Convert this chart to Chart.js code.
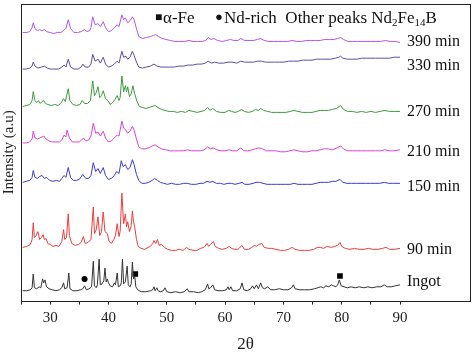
<!DOCTYPE html>
<html><head><meta charset="utf-8">
<script src="https://cdn.jsdelivr.net/npm/chart.js@4"></script>
<style>html,body{margin:0;padding:0;background:#fff}#wrap{width:474px;height:363px}</style>
</head><body><div id="wrap"><canvas id="c" width="474" height="363"></canvas></div>
<script>
// ---- data: [2θ, intensity (a.u., stacked offset included)] ----
const seriesNames = ["390 min","330 min","270 min","210 min","150 min","90 min","Ingot"];
const seriesColors = ["#b455f0","#5b4fa6","#3a9c3a","#e040e0","#3a3ae0","#f03c3c","#333333"];
const seriesLabelY = [263, 238, 192, 151, 115, 52, 19];

const min390 = [[25.3,272],[25.9,272],[26.5,273],[26.9,277],[27.1,282],[27.4,276],[27.8,274],[28.2,275],[28.6,274],[29.0,275],[29.4,273],[30.0,272],[30.6,271],[31.2,272],[31.8,272],[32.1,273],[32.4,275],[32.7,276],[33.1,285],[33.5,276],[34.1,272],[34.7,272],[35.3,273],[35.9,275],[36.3,273],[36.8,274],[37.0,277],[37.3,288],[37.7,280],[38.2,281],[38.6,278],[39.1,283],[39.5,277],[40.0,273],[40.5,274],[41.0,277],[41.5,280],[41.8,278],[42.3,290],[42.6,285],[42.9,287],[43.3,282],[43.7,284],[44.1,288],[44.4,285],[44.8,276],[45.2,268],[45.8,266],[46.5,267],[47.2,268],[47.7,269],[48.1,270],[48.6,268],[49.2,266],[49.9,265],[50.6,264],[51.4,263],[52.2,263],[53.0,263],[53.8,264],[54.5,263],[55.3,263],[56.1,263],[56.7,264],[57.1,267],[57.6,265],[58.1,266],[58.7,264],[59.5,263],[60.3,264],[60.9,265],[61.5,264],[62.2,264],[62.7,266],[63.3,264],[64.1,264],[64.9,264],[65.5,265],[66.1,266],[66.7,264],[67.5,263],[68.3,263],[69.1,263],[69.9,263],[70.7,263],[71.5,264],[72.3,263],[73.1,263],[73.9,264],[74.7,264],[75.5,264],[76.3,264],[77.1,265],[77.9,265],[78.7,265],[79.3,266],[79.8,267],[80.3,265],[81.1,263],[81.9,263],[82.7,263],[83.5,263],[84.3,263],[85.1,263],[85.9,263],[86.7,263],[87.5,264],[88.3,263],[89.1,263],[90.0,262]];

const min330 = [[25.3,235],[25.9,235],[26.5,236],[26.9,238],[27.1,242],[27.4,238],[27.9,236],[28.5,237],[29.0,238],[29.5,236],[30.1,235],[30.8,235],[31.5,235],[32.0,237],[32.4,239],[32.7,237],[33.1,245],[33.5,237],[34.1,235],[34.8,235],[35.3,237],[35.6,240],[36.0,237],[36.6,237],[37.0,240],[37.3,250],[37.7,243],[38.2,245],[38.6,241],[39.1,247],[39.5,240],[40.0,237],[40.5,238],[41.0,240],[41.5,243],[41.8,241],[42.3,253],[42.6,247],[43.0,248],[43.3,245],[43.7,247],[44.1,253],[44.4,249],[44.8,242],[45.2,237],[45.8,236],[46.5,237],[47.2,238],[47.8,240],[48.3,238],[49.0,237],[49.7,237],[50.5,237],[51.3,237],[52.1,238],[52.9,238],[53.6,239],[54.4,239],[55.2,240],[56.0,240],[56.6,241],[57.1,243],[57.6,241],[58.2,242],[58.9,241],[59.7,241],[60.5,242],[61.2,242],[62.0,241],[62.7,243],[63.3,242],[64.1,242],[64.9,242],[65.6,243],[66.2,243],[66.9,242],[67.7,242],[68.5,242],[69.3,242],[70.1,242],[70.9,243],[71.7,243],[72.5,243],[73.3,244],[74.1,244],[74.9,244],[75.7,245],[76.5,245],[77.3,245],[78.1,245],[78.9,246],[79.5,247],[79.8,248],[80.2,246],[81.0,245],[81.8,245],[82.6,245],[83.4,246],[84.2,246],[85.0,246],[85.8,246],[86.6,246],[87.4,246],[88.2,246],[89.0,247],[90.0,247]];

const min270 = [[25.3,197],[25.9,198],[26.5,199],[26.9,203],[27.1,212],[27.4,203],[27.7,201],[28.0,203],[28.3,200],[28.6,202],[28.9,203],[29.2,200],[29.6,199],[30.2,198],[30.8,199],[31.4,198],[31.9,201],[32.3,205],[32.6,202],[33.1,215],[33.4,203],[33.9,199],[34.5,198],[35.1,199],[35.5,203],[35.9,200],[36.4,200],[36.9,203],[37.3,223],[37.6,208],[37.9,211],[38.2,217],[38.5,206],[38.8,208],[39.1,213],[39.5,205],[39.9,203],[40.3,199],[40.7,201],[41.1,204],[41.5,208],[41.8,203],[42.0,206],[42.3,228],[42.6,212],[42.9,218],[43.1,212],[43.3,217],[43.6,207],[43.9,210],[44.2,218],[44.5,210],[44.9,202],[45.3,197],[45.8,196],[46.4,195],[47.0,196],[47.5,197],[48.0,198],[48.5,196],[49.1,194],[49.7,193],[50.4,192],[51.1,192],[51.8,191],[52.5,192],[53.2,191],[53.8,193],[54.5,192],[55.2,191],[55.9,192],[56.5,193],[57.0,196],[57.4,193],[57.9,195],[58.5,192],[59.2,191],[60.0,191],[60.6,193],[61.1,192],[61.7,191],[62.3,192],[62.8,194],[63.3,192],[64.0,191],[64.7,192],[65.2,194],[65.7,193],[66.1,195],[66.6,193],[67.3,192],[68.0,191],[68.8,191],[69.6,191],[70.4,191],[71.2,192],[71.8,193],[72.5,192],[73.3,191],[74.1,191],[74.9,191],[75.6,192],[76.3,193],[77.0,193],[77.7,193],[78.4,194],[79.1,195],[79.8,198],[80.3,194],[81.0,192],[81.8,192],[82.6,191],[83.4,192],[84.2,191],[85.0,192],[85.8,191],[86.6,192],[87.4,193],[88.2,192],[89.0,192],[90.0,192]];

const min210 = [[25.3,160],[25.9,160],[26.5,161],[26.9,164],[27.1,172],[27.4,165],[27.8,164],[28.2,165],[28.6,166],[28.9,167],[29.3,164],[29.8,162],[30.4,161],[31.0,161],[31.6,161],[32.0,163],[32.4,168],[32.7,166],[32.9,173],[33.3,165],[33.8,161],[34.4,161],[35.0,161],[35.4,163],[35.7,165],[36.1,162],[36.6,163],[37.0,167],[37.4,180],[37.8,170],[38.2,171],[38.6,167],[39.1,172],[39.5,165],[40.0,161],[40.5,162],[41.0,165],[41.5,168],[41.8,167],[42.3,182],[42.6,175],[43.0,173],[43.3,170],[43.7,172],[44.1,177],[44.4,173],[44.8,164],[45.2,156],[45.7,154],[46.3,154],[46.9,155],[47.5,157],[48.0,158],[48.5,156],[49.1,154],[49.8,153],[50.5,152],[51.3,152],[52.0,152],[52.8,152],[53.6,153],[54.3,152],[55.0,152],[55.8,152],[56.4,153],[57.0,156],[57.5,154],[58.0,155],[58.6,153],[59.3,152],[60.0,152],[60.7,153],[61.3,152],[62.0,152],[62.7,155],[63.2,152],[63.9,152],[64.6,153],[65.2,154],[65.8,155],[66.4,154],[67.1,152],[67.9,152],[68.7,152],[69.5,151],[70.3,151],[71.1,152],[71.8,153],[72.5,152],[73.3,151],[74.1,151],[74.9,152],[75.6,152],[76.3,153],[77.0,154],[77.7,154],[78.4,153],[79.2,155],[79.8,157],[80.3,154],[81.0,152],[81.8,152],[82.6,152],[83.4,152],[84.2,152],[85.0,152],[85.8,152],[86.6,152],[87.4,153],[88.2,152],[89.0,152],[90.0,153]];

const min150 = [[25.3,120],[25.9,121],[26.5,122],[26.9,125],[27.1,132],[27.4,125],[27.8,124],[28.2,126],[28.6,127],[29.0,124],[29.4,125],[29.9,122],[30.5,121],[31.1,122],[31.6,121],[32.0,124],[32.4,127],[32.7,125],[33.1,135],[33.5,125],[34.0,122],[34.5,122],[35.0,123],[35.6,128],[36.1,124],[36.6,124],[37.0,127],[37.4,140],[37.8,131],[38.2,134],[38.6,129],[39.1,135],[39.5,127],[40.0,123],[40.5,124],[41.0,127],[41.4,131],[41.8,129],[42.2,142],[42.5,136],[42.9,138],[43.3,133],[43.7,135],[44.1,143],[44.4,138],[44.8,128],[45.2,122],[45.7,119],[46.3,119],[46.9,120],[47.5,122],[47.9,124],[48.4,122],[48.9,120],[49.5,119],[50.1,118],[50.8,119],[51.5,118],[52.2,118],[52.9,119],[53.5,119],[54.2,118],[55.0,118],[55.7,119],[56.3,119],[56.9,121],[57.4,120],[57.9,121],[58.5,119],[59.2,119],[59.8,118],[60.5,119],[61.1,119],[61.7,118],[62.4,119],[62.9,120],[63.4,118],[64.1,118],[64.8,119],[65.3,120],[65.9,120],[66.5,119],[67.2,118],[68.0,118],[68.8,118],[69.6,118],[70.4,118],[71.2,118],[71.8,119],[72.5,118],[73.3,118],[74.1,118],[74.9,118],[75.6,119],[76.3,120],[77.0,120],[77.7,120],[78.4,121],[79.0,121],[79.7,123],[80.2,120],[80.9,119],[81.7,119],[82.5,119],[83.3,119],[84.1,119],[84.9,119],[85.7,119],[86.5,119],[87.3,120],[88.1,119],[88.9,119],[90.0,119]];

const min90 = [[25.3,54],[26.0,55],[26.6,57],[26.9,62],[27.1,79],[27.3,64],[27.6,66],[27.9,70],[28.2,62],[28.5,64],[28.8,67],[29.0,62],[29.3,63],[29.6,58],[30.0,57],[30.5,55],[31.0,56],[31.5,55],[32.0,60],[32.3,72],[32.5,62],[32.8,64],[33.1,88],[33.3,66],[33.7,58],[34.3,56],[34.9,57],[35.3,59],[35.7,65],[36.0,58],[36.5,59],[37.0,62],[37.4,95],[37.6,68],[37.9,72],[38.2,85],[38.5,66],[38.8,70],[39.1,90],[39.4,70],[39.8,68],[40.1,60],[40.5,58],[40.9,62],[41.2,66],[41.5,78],[41.8,65],[42.0,70],[42.3,109],[42.6,78],[42.9,88],[43.1,75],[43.3,80],[43.6,70],[43.9,76],[44.1,91],[44.3,80],[44.5,75],[44.8,62],[45.1,55],[45.6,53],[46.2,52],[46.8,54],[47.2,55],[47.6,58],[47.8,61],[48.1,58],[48.4,62],[48.7,56],[49.1,57],[49.6,54],[50.2,52],[50.8,51],[51.5,51],[52.2,52],[52.8,51],[53.4,54],[53.8,52],[54.5,51],[55.2,51],[55.8,53],[56.4,54],[56.9,58],[57.2,55],[57.5,57],[58.0,60],[58.3,55],[58.9,53],[59.5,52],[60.2,53],[60.7,55],[61.1,53],[61.6,52],[62.2,52],[62.9,56],[63.3,52],[64.0,52],[64.6,54],[65.0,56],[65.4,55],[65.8,57],[66.3,58],[66.7,54],[67.4,53],[68.0,53],[68.7,52],[69.5,51],[70.2,51],[70.9,52],[71.5,54],[72.0,52],[72.8,51],[73.6,51],[74.4,51],[75.2,52],[75.8,54],[76.3,54],[76.9,53],[77.5,55],[78.2,54],[78.8,55],[79.3,56],[79.7,59],[80.0,55],[80.6,53],[81.4,52],[82.2,53],[83.0,52],[83.8,52],[84.6,53],[85.4,52],[86.2,52],[87.0,53],[87.6,54],[88.2,52],[89.0,52],[90.0,53]];

const ingot = [[25.3,10],[26.0,10],[26.6,11],[26.9,13],[27.1,27],[27.3,13],[27.7,12],[28.1,14],[28.4,13],[28.7,22],[28.9,18],[29.1,21],[29.4,14],[29.8,12],[30.4,11],[31.0,10],[31.6,11],[32.0,13],[32.3,18],[32.5,12],[32.9,13],[33.2,28],[33.4,12],[33.9,10],[34.6,10],[35.2,11],[35.6,12],[35.9,15],[36.2,11],[36.7,12],[37.1,14],[37.4,40],[37.6,15],[37.9,13],[38.1,16],[38.4,42],[38.6,16],[38.9,17],[39.2,20],[39.4,33],[39.6,19],[39.8,22],[40.0,18],[40.3,15],[40.7,14],[41.0,18],[41.2,16],[41.5,28],[41.7,14],[42.0,15],[42.2,18],[42.4,42],[42.6,17],[42.9,19],[43.2,35],[43.4,16],[43.7,14],[43.9,17],[44.1,39],[44.3,22],[44.5,25],[44.7,14],[45.0,11],[45.6,9],[46.4,9],[47.2,10],[47.6,11],[47.8,14],[48.0,10],[48.3,13],[48.5,10],[48.9,9],[49.4,10],[49.7,13],[50.0,9],[50.7,8],[51.5,9],[52.3,8],[53.0,9],[53.5,12],[53.8,9],[54.6,9],[55.4,8],[56.0,9],[56.6,11],[57.0,17],[57.2,12],[57.5,13],[57.9,16],[58.2,11],[58.8,10],[59.6,10],[60.2,11],[60.5,14],[60.7,11],[61.0,14],[61.3,10],[62.0,10],[62.6,12],[62.9,18],[63.2,11],[63.8,10],[64.4,12],[64.7,15],[65.0,12],[65.4,16],[65.7,12],[66.1,18],[66.4,13],[66.8,12],[67.3,14],[67.8,11],[68.5,11],[69.3,12],[70.0,11],[70.8,11],[71.4,13],[71.7,16],[72.0,12],[72.8,11],[73.6,11],[74.5,11],[75.3,12],[75.9,13],[76.4,14],[76.9,13],[77.3,15],[77.8,14],[78.2,16],[78.6,15],[79.0,14],[79.3,16],[79.6,21],[79.9,15],[80.4,14],[81.0,13],[81.6,14],[82.3,13],[83.0,14],[83.8,13],[84.5,14],[85.2,13],[86.0,14],[86.7,14],[87.3,16],[87.8,14],[88.5,14],[89.2,15],[90.0,16]];

const alphaFeMarks = [[44.6,27],[79.7,25]];
const ndRichMarks = [[35.9,22]];
const xTickLabels = [30,40,50,60,70,80,90];

const allSeries = [min390,min330,min270,min210,min150,min90,ingot];

const toPts = a => a.map(p => ({x:p[0], y:p[1]}));
const FONT = "'Liberation Serif','Times New Roman',serif";

const datasets = allSeries.map((s,i)=>({
  type:'line', label: seriesNames[i], data: toPts(s),
  borderColor: seriesColors[i], borderWidth: 1, pointRadius: 0, tension: 0, fill:false
}));
datasets.push({type:'scatter', label:'α-Fe', data: toPts(alphaFeMarks), pointStyle:'rect', pointRadius:4, backgroundColor:'#000', borderColor:'#000', borderWidth:0});
datasets.push({type:'scatter', label:'Nd-rich', data: toPts(ndRichMarks), pointStyle:'circle', pointRadius:3, backgroundColor:'#000', borderColor:'#000', borderWidth:0});

const framePlugin = {
  id:'frame',
  afterDraw(chart){
    const {ctx, chartArea:a, scales} = chart;
    ctx.save();
    ctx.strokeStyle = '#222'; ctx.lineWidth = 1;
    ctx.strokeRect(Math.round(a.left)+0.5, Math.round(a.top)+0.5, Math.round(a.right-a.left), Math.round(a.bottom-a.top));
    // series labels
    ctx.fillStyle = '#111';
    ctx.font = "16px " + FONT;
    ctx.textBaseline = 'middle'; ctx.textAlign = 'left';
    seriesNames.forEach((n,i)=>{
      ctx.fillText(n, scales.x.getPixelForValue(91.2), scales.y.getPixelForValue(seriesLabelY[i]));
    });
    // legend text
    const yb = a.top + 19;   // text baseline
    const ym = a.top + 14;   // glyph middle
    ctx.textBaseline = 'middle';
    ctx.font = "12px " + FONT; ctx.fillText('■', 155, ym);
    ctx.font = "13px " + FONT; ctx.fillText('●', 215, ym);
    ctx.textBaseline = 'alphabetic';
    ctx.font = "17px " + FONT; ctx.fillText('α-Fe', 163, yb);
    let x = 224;
    const main = 'Nd-rich  Other peaks Nd';
    ctx.fillText(main, x, yb);
    x += ctx.measureText(main).width;
    const parts = [['2',1],['Fe',0],['14',1],['B',0]];
    parts.forEach(([t,sub])=>{
      ctx.font = (sub? "11px ":"17px ") + FONT;
      ctx.fillText(t, x, yb+(sub?3:0));
      x += ctx.measureText(t).width;
    });
    ctx.restore();
  }
};

new Chart(document.getElementById('c'), {
  data:{datasets},
  options:{
    responsive:false, animation:false,
    layout:{padding:{top:4,right:4,bottom:4,left:0}},
    plugins:{legend:{display:false}, tooltip:{enabled:false}},
    scales:{
      x:{type:'linear', min:25, max:102,
        grid:{drawOnChartArea:false, drawTicks:true, tickLength:4,
          color: c => (c.tick && c.tick.value <= 90) ? '#222' : 'rgba(0,0,0,0)'},
        border:{display:false},
        ticks:{stepSize:5, autoSkip:false, maxRotation:0, padding:4, color:'#222',
          font:{family:FONT, size:15},
          callback: v => xTickLabels.includes(v) ? String(v) : ''},
        title:{display:true, text:'2θ', color:'#222', font:{family:FONT, size:17}, padding:{top:4,bottom:4}}
      },
      y:{type:'linear', min:0, max:301,
        grid:{display:false, drawTicks:false}, border:{display:false},
        ticks:{display:false},
        title:{display:true, text:'Intensity (a.u)', color:'#222', font:{family:FONT, size:15}, padding:{top:0,bottom:3}}
      }
    }
  },
  plugins:[framePlugin]
});
</script></body></html>
